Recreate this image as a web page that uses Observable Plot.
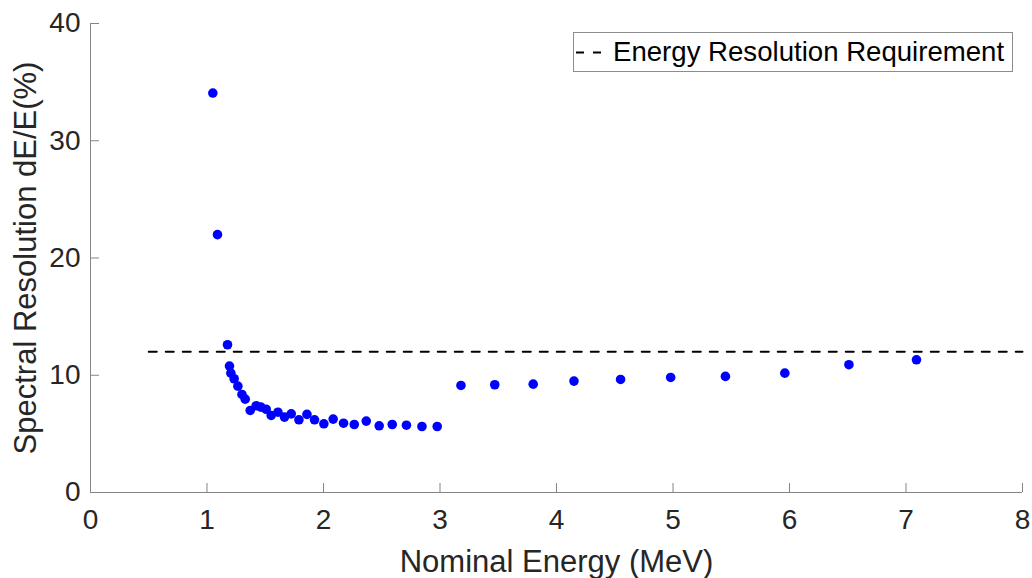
<!DOCTYPE html>
<html>
<head>
<meta charset="utf-8">
<script src="https://cdn.jsdelivr.net/npm/d3@7"></script>
<script src="https://cdn.jsdelivr.net/npm/@observablehq/plot@0.6"></script>
<style>
  html, body { margin: 0; padding: 0; background: #fff; }
  #wrap { position: relative; width: 1032px; height: 578px; font-family: "Liberation Sans", Arial, sans-serif; }
  #legend { position: absolute; left: 573px; top: 32px; width: 438px; height: 38px; border: 1px solid #8c8c8c; background: #fff; box-sizing: content-box; }
  #legend svg { position: absolute; left: 0; top: 0; }
  #legend span { position: absolute; left: 39px; top: 3px; font-size: 27.6px; color: #000; white-space: nowrap; }
</style>
</head>
<body>
<div id="wrap"></div>
<script>
// ---- data ----
const energy = [1.05, 1.09, 1.176, 1.193, 1.205, 1.233, 1.265, 1.300, 1.328, 1.371,
  1.422, 1.463, 1.508, 1.551, 1.609, 1.665, 1.723, 1.789, 1.858, 1.923,
  2.003, 2.083, 2.172, 2.264, 2.367, 2.478, 2.590, 2.712, 2.845, 2.976,
  3.18, 3.47, 3.80, 4.15, 4.55, 4.98, 5.45, 5.96, 6.51, 7.09];
const resolution = [34.07, 21.99, 12.6, 10.78, 10.18, 9.7, 9.07, 8.36, 7.96, 7.0,
  7.4, 7.28, 7.1, 6.57, 6.85, 6.43, 6.71, 6.2, 6.66, 6.2,
  5.86, 6.26, 5.91, 5.8, 6.09, 5.69, 5.8, 5.74, 5.63, 5.63,
  9.13, 9.19, 9.24, 9.5, 9.64, 9.81, 9.9, 10.18, 10.9, 11.32];
const requirementEnergy = [0.5, 8];
const requirementValue = [12, 12];
const xTicks = [0, 1, 2, 3, 4, 5, 6, 7, 8];
const yTicks = [0, 10, 20, 30, 40];
const xLabel = "Nominal Energy (MeV)";
const yLabel = "Spectral Resolution dE/E(%)";
const legendLabel = "Energy Resolution Requirement";

const points = energy.map((e, i) => ({energy: e, resolution: resolution[i]}));
const requirement = requirementEnergy.map((e, i) => ({energy: e, value: requirementValue[i]}));

const axisGray = "#858585";
const textColor = "#262626";

const chart = Plot.plot({
  width: 1032,
  height: 578,
  marginLeft: 90,
  marginRight: 10,
  marginTop: 23,
  marginBottom: 86,
  style: {fontFamily: '"Liberation Sans", Arial, sans-serif', fontSize: "28px", color: textColor, background: "#fff", overflow: "visible"},
  x: {domain: [0, 8]},
  y: {domain: [0, 40]},
  marks: [
    Plot.ruleY([0], {stroke: axisGray, strokeWidth: 1}),
    Plot.ruleX([0], {stroke: axisGray, strokeWidth: 1}),
    Plot.axisX({ticks: xTicks, tickSize: -9, tickPadding: 26, stroke: axisGray, fill: textColor, fontSize: 28, label: null, tickFormat: d => d}),
    Plot.axisY({ticks: yTicks, tickSize: -9, tickPadding: 19, stroke: axisGray, fill: textColor, fontSize: 28, label: null, tickFormat: d => d}),
    Plot.text([xLabel], {text: d => d, frameAnchor: "bottom", dy: 79, lineAnchor: "bottom", textAnchor: "middle", fontSize: 31, fill: textColor}),
    Plot.text([yLabel], {text: d => d, frameAnchor: "left", dx: -77, rotate: -90, lineAnchor: "top", textAnchor: "middle", fontSize: 31, fill: textColor}),
    Plot.line(requirement, {x: "energy", y: "value", stroke: "#000", strokeWidth: 2, strokeDasharray: "8,9"}),
    Plot.dot(points, {x: "energy", y: "resolution", r: 4.8, fill: "#0000ff", stroke: "none"})
  ]
});

const wrap = document.getElementById("wrap");
wrap.appendChild(chart);

const legend = document.createElement("div");
legend.id = "legend";
legend.innerHTML = `<svg width="40" height="38"><line x1="2" x2="30" y1="19.5" y2="19.5" stroke="#000" stroke-width="2" stroke-dasharray="8,9"></line></svg><span>${legendLabel}</span>`;
wrap.appendChild(legend);
</script>
</body>
</html>
